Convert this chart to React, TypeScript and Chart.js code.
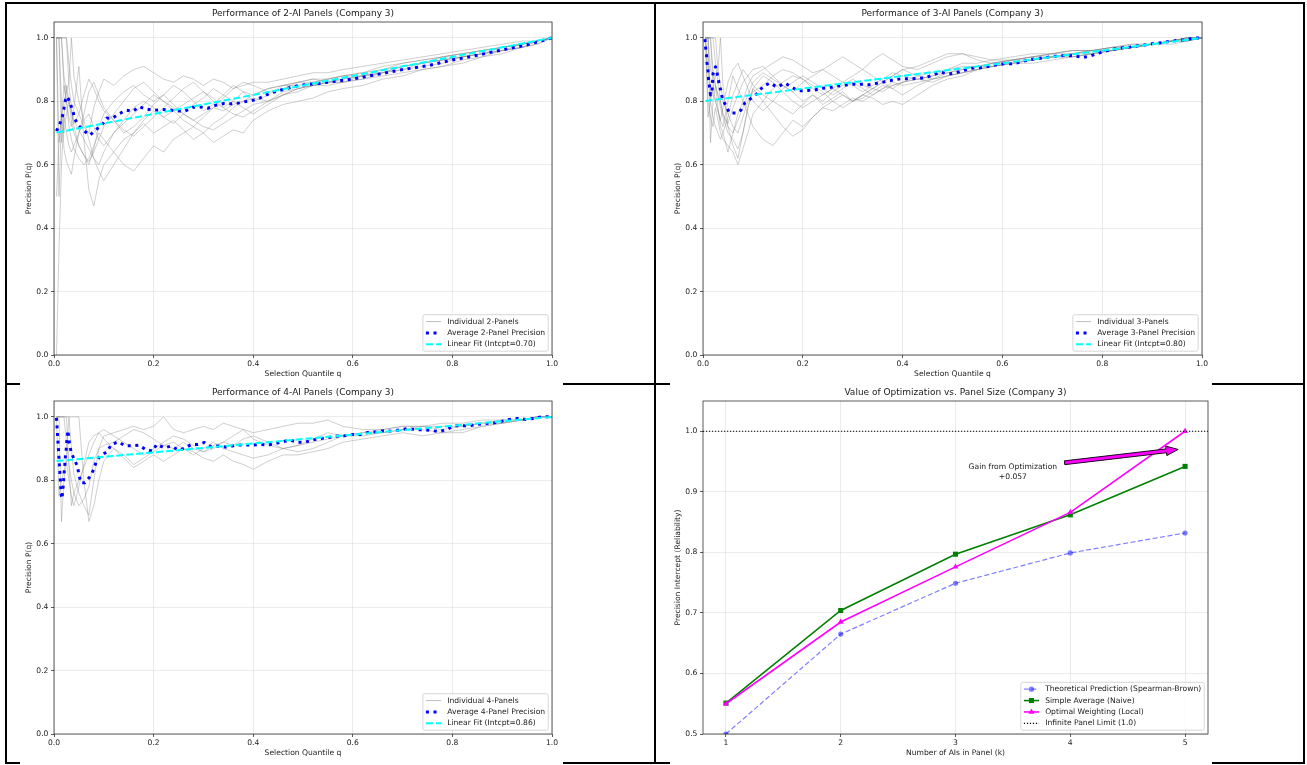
import React, { useEffect, useRef } from "react";
import { Chart, registerables } from "chart.js";

Chart.register(...registerables);

const FONT = '"DejaVu Sans", "Liberation Sans", Arial, sans-serif';
const TEXT = "#1a1a1a";

// ---------------- data ----------------
const Q_GRID = [0.005, 0.01, 0.015, 0.02, 0.025, 0.03, 0.035, 0.04, 0.05, 0.06,
  0.07, 0.08, 0.09, 0.10, 0.12, 0.14, 0.16, 0.18, 0.20, 0.22,
  0.24, 0.26, 0.28, 0.30, 0.32, 0.34, 0.36, 0.38, 0.40, 0.43,
  0.46, 0.49, 0.52, 0.55, 0.58, 0.62, 0.66, 0.70, 0.74, 0.78,
  0.82, 0.86, 0.90, 0.94, 0.97, 1.0];

const PANELS_2 = [
  [0.0, 0.33, 0.60, 0.75, 0.85, 0.80, 0.74, 0.70, 0.66, 0.63, 0.61, 0.64, 0.68, 0.72, 0.76, 0.80, 0.84, 0.86, 0.83, 0.80, 0.78, 0.76, 0.74, 0.72, 0.71, 0.73, 0.75, 0.77, 0.79, 0.80, 0.83, 0.84, 0.85, 0.86, 0.86, 0.88, 0.89, 0.90, 0.92, 0.93, 0.94, 0.95, 0.96, 0.98, 0.99, 1.0],
  [1.0, 1.0, 0.80, 0.65, 0.61, 0.59, 0.57, 0.62, 0.70, 0.76, 0.83, 0.86, 0.82, 0.78, 0.74, 0.70, 0.72, 0.75, 0.79, 0.82, 0.85, 0.83, 0.80, 0.77, 0.79, 0.82, 0.85, 0.83, 0.80, 0.82, 0.85, 0.86, 0.87, 0.86, 0.87, 0.88, 0.90, 0.91, 0.92, 0.94, 0.95, 0.96, 0.97, 0.98, 0.99, 1.0],
  [1.0, 1.0, 1.0, 0.85, 0.80, 0.75, 0.72, 0.78, 0.91, 0.68, 0.52, 0.47, 0.55, 0.60, 0.64, 0.68, 0.70, 0.74, 0.77, 0.75, 0.73, 0.76, 0.79, 0.81, 0.84, 0.82, 0.80, 0.78, 0.76, 0.79, 0.82, 0.84, 0.85, 0.85, 0.86, 0.87, 0.89, 0.90, 0.91, 0.92, 0.94, 0.95, 0.96, 0.97, 0.99, 1.0],
  [1.0, 1.0, 1.0, 1.0, 1.0, 0.92, 0.85, 0.80, 0.76, 0.72, 0.70, 0.78, 0.83, 0.87, 0.85, 0.88, 0.90, 0.91, 0.89, 0.87, 0.86, 0.88, 0.87, 0.85, 0.87, 0.86, 0.84, 0.85, 0.86, 0.86, 0.87, 0.88, 0.89, 0.89, 0.90, 0.91, 0.92, 0.93, 0.94, 0.95, 0.96, 0.97, 0.98, 0.99, 0.99, 1.0],
  [1.0, 0.50, 0.75, 0.85, 0.80, 0.72, 0.68, 0.65, 0.62, 0.60, 0.62, 0.66, 0.70, 0.68, 0.64, 0.60, 0.58, 0.62, 0.66, 0.64, 0.68, 0.70, 0.72, 0.70, 0.67, 0.69, 0.71, 0.70, 0.74, 0.77, 0.79, 0.80, 0.81, 0.83, 0.84, 0.85, 0.87, 0.88, 0.90, 0.91, 0.92, 0.94, 0.95, 0.97, 0.98, 1.0],
  [1.0, 1.0, 1.0, 1.0, 1.0, 0.85, 0.78, 0.72, 0.66, 0.63, 0.60, 0.65, 0.72, 0.76, 0.80, 0.83, 0.85, 0.82, 0.80, 0.82, 0.79, 0.76, 0.74, 0.76, 0.78, 0.81, 0.84, 0.86, 0.85, 0.83, 0.84, 0.86, 0.87, 0.87, 0.88, 0.89, 0.90, 0.92, 0.93, 0.94, 0.95, 0.96, 0.97, 0.98, 0.99, 1.0],
  [0.50, 0.67, 0.75, 0.80, 0.83, 0.86, 1.0, 0.88, 0.80, 0.74, 0.68, 0.62, 0.60, 0.64, 0.70, 0.74, 0.78, 0.80, 0.78, 0.75, 0.77, 0.74, 0.72, 0.75, 0.78, 0.77, 0.79, 0.80, 0.82, 0.84, 0.85, 0.86, 0.86, 0.87, 0.88, 0.89, 0.91, 0.92, 0.93, 0.94, 0.95, 0.96, 0.97, 0.98, 0.99, 1.0],
  [1.0, 1.0, 0.67, 0.75, 0.70, 0.66, 0.64, 0.66, 0.70, 0.74, 0.76, 0.72, 0.68, 0.66, 0.70, 0.73, 0.76, 0.79, 0.82, 0.80, 0.77, 0.79, 0.81, 0.83, 0.81, 0.78, 0.76, 0.75, 0.77, 0.80, 0.82, 0.84, 0.85, 0.86, 0.86, 0.87, 0.88, 0.89, 0.90, 0.91, 0.93, 0.94, 0.96, 0.97, 0.98, 1.0],
  [1.0, 0.67, 0.75, 0.70, 0.76, 0.80, 0.77, 0.74, 0.71, 0.68, 0.65, 0.62, 0.58, 0.55, 0.60, 0.65, 0.70, 0.73, 0.70, 0.72, 0.74, 0.71, 0.68, 0.70, 0.73, 0.75, 0.78, 0.80, 0.81, 0.80, 0.82, 0.83, 0.85, 0.86, 0.87, 0.88, 0.89, 0.91, 0.92, 0.93, 0.94, 0.95, 0.97, 0.98, 0.99, 1.0],
  [1.0, 1.0, 1.0, 0.88, 0.83, 0.80, 0.76, 0.73, 0.76, 0.82, 0.87, 0.84, 0.80, 0.77, 0.74, 0.71, 0.69, 0.72, 0.75, 0.78, 0.81, 0.84, 0.86, 0.83, 0.80, 0.78, 0.80, 0.83, 0.82, 0.84, 0.85, 0.85, 0.86, 0.87, 0.88, 0.88, 0.89, 0.91, 0.92, 0.93, 0.94, 0.95, 0.96, 0.97, 0.99, 1.0],
];

const PANELS_3 = [
  [1.0, 1.0, 0.67, 0.80, 0.85, 0.78, 0.72, 0.70, 0.64, 0.70, 0.76, 0.80, 0.85, 0.88, 0.90, 0.92, 0.94, 0.93, 0.91, 0.89, 0.90, 0.88, 0.86, 0.88, 0.90, 0.88, 0.86, 0.88, 0.90, 0.91, 0.93, 0.95, 0.95, 0.94, 0.93, 0.94, 0.95, 0.95, 0.96, 0.96, 0.97, 0.98, 0.98, 0.99, 0.99, 1.0],
  [1.0, 1.0, 1.0, 1.0, 1.0, 0.90, 1.0, 0.85, 0.72, 0.66, 0.62, 0.70, 0.78, 0.84, 0.88, 0.86, 0.83, 0.80, 0.78, 0.80, 0.82, 0.84, 0.82, 0.80, 0.81, 0.83, 0.85, 0.84, 0.86, 0.87, 0.88, 0.89, 0.90, 0.91, 0.91, 0.92, 0.93, 0.94, 0.94, 0.95, 0.96, 0.97, 0.98, 0.99, 0.99, 1.0],
  [1.0, 0.80, 0.75, 0.72, 0.78, 0.74, 0.70, 0.68, 0.66, 0.64, 0.60, 0.65, 0.70, 0.76, 0.80, 0.84, 0.86, 0.88, 0.87, 0.85, 0.83, 0.80, 0.78, 0.80, 0.82, 0.84, 0.86, 0.84, 0.82, 0.85, 0.87, 0.88, 0.89, 0.90, 0.92, 0.93, 0.94, 0.94, 0.95, 0.96, 0.97, 0.97, 0.98, 0.99, 1.0, 1.0],
  [1.0, 1.0, 1.0, 0.90, 0.85, 0.82, 0.80, 0.76, 0.72, 0.70, 0.74, 0.78, 0.82, 0.86, 0.89, 0.87, 0.85, 0.83, 0.86, 0.88, 0.90, 0.92, 0.94, 0.92, 0.90, 0.93, 0.95, 0.93, 0.91, 0.90, 0.92, 0.94, 0.95, 0.93, 0.92, 0.93, 0.94, 0.95, 0.96, 0.96, 0.97, 0.97, 0.98, 0.99, 1.0, 1.0],
  [1.0, 0.90, 0.85, 0.82, 0.80, 0.77, 0.74, 0.72, 0.80, 0.88, 0.84, 0.80, 0.76, 0.72, 0.68, 0.66, 0.70, 0.74, 0.72, 0.75, 0.78, 0.77, 0.79, 0.81, 0.80, 0.82, 0.84, 0.85, 0.86, 0.87, 0.86, 0.88, 0.89, 0.90, 0.91, 0.92, 0.93, 0.94, 0.94, 0.95, 0.96, 0.97, 0.98, 0.98, 0.99, 1.0],
  [1.0, 1.0, 0.90, 0.88, 0.85, 0.82, 0.78, 0.75, 0.70, 0.68, 0.65, 0.70, 0.78, 0.84, 0.80, 0.76, 0.72, 0.69, 0.71, 0.75, 0.78, 0.80, 0.82, 0.80, 0.82, 0.84, 0.83, 0.85, 0.86, 0.88, 0.89, 0.90, 0.91, 0.91, 0.92, 0.93, 0.94, 0.95, 0.95, 0.96, 0.96, 0.97, 0.98, 0.99, 1.0, 1.0],
  [1.0, 1.0, 1.0, 1.0, 0.92, 0.86, 0.80, 0.76, 0.73, 0.78, 0.82, 0.86, 0.88, 0.90, 0.91, 0.88, 0.85, 0.83, 0.80, 0.82, 0.79, 0.81, 0.83, 0.80, 0.82, 0.81, 0.79, 0.80, 0.79, 0.82, 0.85, 0.87, 0.88, 0.90, 0.91, 0.92, 0.93, 0.94, 0.95, 0.95, 0.96, 0.97, 0.98, 0.99, 1.0, 1.0],
  [1.0, 0.75, 0.80, 0.84, 0.88, 0.90, 0.85, 0.80, 0.76, 0.72, 0.70, 0.75, 0.80, 0.83, 0.85, 0.88, 0.90, 0.89, 0.87, 0.84, 0.82, 0.84, 0.86, 0.85, 0.83, 0.85, 0.87, 0.89, 0.88, 0.87, 0.88, 0.90, 0.92, 0.92, 0.93, 0.93, 0.94, 0.95, 0.96, 0.96, 0.97, 0.98, 0.98, 0.99, 1.0, 1.0],
  [1.0, 1.0, 0.80, 0.75, 0.72, 0.70, 0.68, 0.70, 0.75, 0.82, 0.86, 0.90, 0.88, 0.85, 0.82, 0.80, 0.78, 0.76, 0.79, 0.82, 0.80, 0.83, 0.85, 0.87, 0.85, 0.84, 0.86, 0.88, 0.90, 0.88, 0.87, 0.89, 0.90, 0.91, 0.92, 0.93, 0.93, 0.94, 0.95, 0.96, 0.96, 0.97, 0.98, 0.99, 1.0, 1.0],
  [1.0, 1.0, 1.0, 0.85, 0.80, 0.77, 0.74, 0.78, 0.86, 0.90, 0.92, 0.88, 0.84, 0.80, 0.77, 0.80, 0.84, 0.86, 0.88, 0.86, 0.84, 0.82, 0.84, 0.86, 0.84, 0.82, 0.84, 0.86, 0.85, 0.86, 0.87, 0.88, 0.89, 0.90, 0.91, 0.92, 0.92, 0.93, 0.94, 0.95, 0.96, 0.97, 0.98, 0.99, 0.99, 1.0],
];

const PANELS_4 = [
  [1.0, 1.0, 0.67, 0.80, 0.88, 1.0, 0.90, 0.82, 0.76, 0.72, 0.69, 0.80, 0.90, 0.94, 0.95, 0.96, 0.97, 0.96, 0.97, 1.0, 0.96, 0.95, 0.96, 0.97, 0.96, 0.98, 0.97, 0.96, 0.95, 0.96, 0.97, 0.98, 0.98, 0.99, 0.97, 0.96, 0.96, 0.97, 0.97, 0.98, 0.98, 0.99, 0.99, 0.99, 1.0, 1.0],
  [1.0, 1.0, 1.0, 1.0, 1.0, 0.85, 0.72, 0.76, 0.80, 0.84, 0.88, 0.92, 0.95, 0.96, 0.94, 0.92, 0.90, 0.88, 0.90, 0.92, 0.94, 0.93, 0.91, 0.89, 0.90, 0.92, 0.91, 0.93, 0.94, 0.92, 0.90, 0.91, 0.93, 0.95, 0.94, 0.95, 0.96, 0.97, 0.97, 0.97, 0.97, 0.98, 0.99, 0.99, 1.0, 1.0],
  [1.0, 1.0, 1.0, 1.0, 1.0, 1.0, 1.0, 1.0, 1.0, 0.80, 0.67, 0.72, 0.80, 0.86, 0.90, 0.87, 0.84, 0.86, 0.88, 0.86, 0.88, 0.90, 0.89, 0.87, 0.86, 0.88, 0.86, 0.85, 0.835, 0.86, 0.88, 0.88, 0.89, 0.90, 0.92, 0.93, 0.94, 0.95, 0.94, 0.95, 0.96, 0.97, 0.98, 0.99, 1.0, 1.0],
  [1.0, 0.75, 0.80, 0.83, 0.86, 0.80, 0.75, 0.72, 0.78, 0.85, 0.92, 0.94, 0.95, 0.93, 0.90, 0.88, 0.85, 0.87, 0.89, 0.91, 0.90, 0.92, 0.90, 0.89, 0.91, 0.92, 0.94, 0.96, 0.93, 0.91, 0.90, 0.89, 0.90, 0.92, 0.94, 0.95, 0.95, 0.96, 0.97, 0.96, 0.97, 0.98, 0.98, 0.99, 1.0, 1.0],
  [1.0, 1.0, 1.0, 1.0, 0.92, 0.85, 0.80, 0.76, 0.72, 0.74, 0.78, 0.86, 0.90, 0.91, 0.92, 0.94, 0.96, 0.95, 0.93, 0.91, 0.92, 0.90, 0.88, 0.90, 0.92, 0.90, 0.89, 0.88, 0.87, 0.88, 0.90, 0.91, 0.92, 0.93, 0.94, 0.94, 0.95, 0.96, 0.96, 0.95, 0.95, 0.97, 0.98, 0.99, 1.0, 1.0],
];

const AVG2_Q = [0.005, 0.012, 0.017, 0.020, 0.023, 0.027, 0.033, 0.038, 0.042, 0.05, 0.061, 0.072, 0.083, 0.096, 0.106, 0.117, 0.13, 0.145, 0.159, 0.171, 0.186, 0.202, 0.218, 0.233, 0.248, 0.263, 0.278, 0.294, 0.309, 0.324, 0.341, 0.356, 0.372, 0.388, 0.405, 0.419, 0.433, 0.45, 0.467, 0.481, 0.497, 0.53, 0.56, 0.6, 0.65, 0.7, 0.75, 0.8, 0.85, 0.9, 0.95, 1.0];
const AVG2_P = [0.706, 0.730, 0.753, 0.777, 0.804, 0.815, 0.791, 0.769, 0.744, 0.722, 0.706, 0.693, 0.709, 0.725, 0.747, 0.746, 0.760, 0.772, 0.769, 0.783, 0.775, 0.772, 0.774, 0.773, 0.769, 0.769, 0.781, 0.782, 0.778, 0.787, 0.793, 0.792, 0.795, 0.800, 0.805, 0.814, 0.825, 0.833, 0.840, 0.846, 0.851, 0.856, 0.862, 0.870, 0.885, 0.900, 0.912, 0.930, 0.945, 0.962, 0.978, 1.0];

const AVG3_Q = [0.004, 0.005, 0.007, 0.008, 0.010, 0.011, 0.013, 0.015, 0.018, 0.019, 0.020, 0.025, 0.029, 0.032, 0.036, 0.039, 0.046, 0.053, 0.066, 0.076, 0.084, 0.097, 0.109, 0.12, 0.134, 0.148, 0.165, 0.177, 0.191, 0.207, 0.223, 0.238, 0.253, 0.269, 0.286, 0.301, 0.317, 0.333, 0.349, 0.365, 0.381, 0.397, 0.413, 0.429, 0.444, 0.46, 0.476, 0.492, 0.508, 0.523, 0.539, 0.556, 0.572, 0.588, 0.603, 0.619, 0.635, 0.651, 0.667, 0.682, 0.698, 0.714, 0.729, 0.745, 0.761, 0.777, 0.793, 0.809, 0.825, 0.841, 0.856, 0.872, 0.888, 0.904, 0.92, 0.936, 0.952, 0.967, 0.983, 1.0];
const AVG3_P = [0.996, 0.972, 0.946, 0.921, 0.896, 0.871, 0.846, 0.820, 0.833, 0.860, 0.886, 0.909, 0.883, 0.858, 0.832, 0.807, 0.786, 0.763, 0.763, 0.772, 0.795, 0.810, 0.825, 0.846, 0.858, 0.845, 0.857, 0.845, 0.833, 0.834, 0.835, 0.841, 0.843, 0.848, 0.851, 0.854, 0.854, 0.852, 0.857, 0.862, 0.867, 0.871, 0.871, 0.872, 0.874, 0.882, 0.892, 0.886, 0.890, 0.898, 0.904, 0.906, 0.91, 0.915, 0.918, 0.918, 0.923, 0.930, 0.934, 0.937, 0.941, 0.943, 0.945, 0.943, 0.938, 0.943, 0.952, 0.959, 0.965, 0.969, 0.971, 0.975, 0.978, 0.982, 0.985, 0.989, 0.992, 0.994, 0.999, 1.0];

const AVG4_Q = [0.005, 0.006, 0.007, 0.008, 0.009, 0.010, 0.011, 0.012, 0.013, 0.014, 0.015, 0.016, 0.018, 0.019, 0.020, 0.022, 0.023, 0.025, 0.026, 0.028, 0.029, 0.031, 0.034, 0.040, 0.047, 0.050, 0.054, 0.062, 0.073, 0.080, 0.085, 0.094, 0.107, 0.115, 0.129, 0.143, 0.157, 0.171, 0.184, 0.198, 0.206, 0.222, 0.235, 0.250, 0.262, 0.276, 0.289, 0.302, 0.316, 0.330, 0.349, 0.366, 0.381, 0.397, 0.413, 0.428, 0.443, 0.458, 0.474, 0.489, 0.504, 0.519, 0.534, 0.550, 0.566, 0.582, 0.598, 0.615, 0.631, 0.647, 0.662, 0.678, 0.694, 0.71, 0.726, 0.742, 0.758, 0.774, 0.789, 0.804, 0.82, 0.835, 0.851, 0.867, 0.883, 0.899, 0.915, 0.931, 0.947, 0.963, 0.979, 1.0];
const AVG4_P = [0.997, 0.972, 0.946, 0.920, 0.894, 0.869, 0.844, 0.818, 0.793, 0.767, 0.750, 0.742, 0.774, 0.793, 0.818, 0.853, 0.879, 0.904, 0.932, 0.957, 0.942, 0.917, 0.892, 0.867, 0.845, 0.818, 0.792, 0.792, 0.813, 0.835, 0.860, 0.879, 0.890, 0.913, 0.921, 0.909, 0.909, 0.911, 0.897, 0.892, 0.913, 0.902, 0.908, 0.895, 0.901, 0.913, 0.913, 0.919, 0.905, 0.908, 0.904, 0.911, 0.911, 0.911, 0.913, 0.911, 0.915, 0.921, 0.927, 0.920, 0.920, 0.927, 0.931, 0.935, 0.939, 0.940, 0.944, 0.944, 0.951, 0.953, 0.956, 0.955, 0.959, 0.963, 0.960, 0.959, 0.957, 0.953, 0.961, 0.972, 0.972, 0.972, 0.977, 0.979, 0.981, 0.986, 0.992, 0.995, 0.992, 0.995, 1.0, 1.0];

const FIT_Q = [0.005, 1.0];
const FIT2_P = [0.7015, 1.0];
const FIT3_P = [0.801, 1.0];
const FIT4_P = [0.8607, 1.0];
const INTERCEPT_2 = 0.70;
const INTERCEPT_3 = 0.80;
const INTERCEPT_4 = 0.86;

const Q_TICKS = [0, 0.2, 0.4, 0.6, 0.8, 1.0];
const P_TICKS = [0, 0.2, 0.4, 0.6, 0.8, 1.0];

const K_VALUES = [1, 2, 3, 4, 5];
const THEORETICAL = [0.500, 0.665, 0.749, 0.799, 0.832];
const SIMPLE_AVG = [0.551, 0.704, 0.797, 0.862, 0.942];
const OPTIMAL = [0.550, 0.685, 0.776, 0.866, 1.0];
const LIMIT = 1.0;
const K_RANGE = [0.8, 5.2];
const REL_TICKS = [0.5, 0.6, 0.7, 0.8, 0.9, 1.0];
const GAIN = 0.057;
const ANNOT_TEXT_AT = [3.5, 0.933];
const ARROW_FROM = [3.95, 0.948];
const ARROW_TO = [4.94, 0.970];

// ---------------- drawing helpers ----------------
type Entry = { label: string; color: string; lw: number; dash: number[]; marker?: string; mcolor?: string; mr?: number };

function drawMarker(ctx: CanvasRenderingContext2D, style: string, x: number, y: number, r: number, color: string) {
  ctx.save();
  ctx.fillStyle = color;
  ctx.beginPath();
  if (style === "circle") {
    ctx.arc(x, y, r, 0, Math.PI * 2);
  } else if (style === "rect") {
    const s = r * Math.SQRT1_2;
    ctx.rect(x - s, y - s, 2 * s, 2 * s);
  } else if (style === "triangle") {
    ctx.moveTo(x, y - r);
    ctx.lineTo(x + r * 0.866, y + r * 0.5);
    ctx.lineTo(x - r * 0.866, y + r * 0.5);
    ctx.closePath();
  }
  ctx.fill();
  ctx.restore();
}

function drawLegend(ctx: CanvasRenderingContext2D, a: any, entries: Entry[]) {
  const fs = 7.6;
  ctx.font = `${fs}px ${FONT}`;
  const tw = Math.max(...entries.map((e) => ctx.measureText(e.label).width));
  const bp = 0.4 * fs, hl = 2 * fs, htp = 0.8 * fs, ls = 0.5 * fs, rh = fs;
  const w = bp * 2 + hl + htp + tw;
  const h = bp * 2 + entries.length * rh + (entries.length - 1) * ls;
  const right = a.right - 0.5 * fs;
  const bottom = a.bottom - 0.5 * fs;
  const left = right - w;
  const top = bottom - h;
  ctx.save();
  ctx.beginPath();
  (ctx as any).roundRect(left, top, w, h, 2);
  ctx.fillStyle = "rgba(255,255,255,0.8)";
  ctx.fill();
  ctx.strokeStyle = "#cccccc";
  ctx.lineWidth = 0.8;
  ctx.stroke();
  entries.forEach((e, i) => {
    const cy = top + bp + rh / 2 + i * (rh + ls);
    const x0 = left + bp;
    const x1 = x0 + hl;
    ctx.save();
    ctx.strokeStyle = e.color;
    ctx.lineWidth = e.lw;
    ctx.lineCap = "butt";
    ctx.setLineDash(e.dash);
    ctx.beginPath();
    ctx.moveTo(x0, cy);
    ctx.lineTo(x1, cy);
    ctx.stroke();
    ctx.restore();
    if (e.marker) drawMarker(ctx, e.marker, (x0 + x1) / 2, cy, e.mr || 3, e.mcolor || e.color);
    ctx.fillStyle = TEXT;
    ctx.textAlign = "left";
    ctx.textBaseline = "middle";
    ctx.fillText(e.label, x1 + htp, cy);
  });
  ctx.restore();
}

function drawAnnotation(ctx: CanvasRenderingContext2D, chart: any) {
  const xs = chart.scales.x, ys = chart.scales.y;
  const x1 = xs.getPixelForValue(ARROW_FROM[0]), y1 = ys.getPixelForValue(ARROW_FROM[1]);
  const x2 = xs.getPixelForValue(ARROW_TO[0]), y2 = ys.getPixelForValue(ARROW_TO[1]);
  const dx = x2 - x1, dy = y2 - y1;
  const len = Math.hypot(dx, dy);
  const ux = dx / len, uy = dy / len;
  const nx = -uy, ny = ux;
  const sw = 1.9, hw = 4.8, hl = 12;
  const bx = x2 - ux * hl, by = y2 - uy * hl;
  ctx.save();
  ctx.beginPath();
  ctx.moveTo(x1 + nx * sw, y1 + ny * sw);
  ctx.lineTo(bx + nx * sw, by + ny * sw);
  ctx.lineTo(bx + nx * hw, by + ny * hw);
  ctx.lineTo(x2, y2);
  ctx.lineTo(bx - nx * hw, by - ny * hw);
  ctx.lineTo(bx - nx * sw, by - ny * sw);
  ctx.lineTo(x1 - nx * sw, y1 - ny * sw);
  ctx.closePath();
  ctx.fillStyle = "#ff00ff";
  ctx.fill();
  ctx.strokeStyle = "#000";
  ctx.lineWidth = 0.9;
  ctx.stroke();
  const tx = xs.getPixelForValue(ANNOT_TEXT_AT[0]), ty = ys.getPixelForValue(ANNOT_TEXT_AT[1]);
  ctx.font = `7.6px ${FONT}`;
  ctx.fillStyle = TEXT;
  ctx.textAlign = "center";
  ctx.textBaseline = "middle";
  ctx.fillText("Gain from Optimization", tx, ty - 5);
  ctx.fillText(`+${GAIN.toFixed(3)}`, tx, ty + 5);
  ctx.restore();
}

function decorPlugin(opts: { title: string; xlabel: string; ylabel: string; legend: Entry[]; annotate?: boolean }) {
  return {
    id: "decor",
    afterDraw(chart: any) {
      const ctx: CanvasRenderingContext2D = chart.ctx;
      const a = chart.chartArea;
      ctx.save();
      if (opts.annotate) drawAnnotation(ctx, chart);
      ctx.strokeStyle = "rgba(0,0,0,0.8)";
      ctx.lineWidth = 0.8;
      ctx.strokeRect(a.left, a.top, a.right - a.left, a.bottom - a.top);
      const mx = (a.left + a.right) / 2;
      const my = (a.top + a.bottom) / 2;
      ctx.fillStyle = TEXT;
      ctx.textAlign = "center";
      ctx.textBaseline = "middle";
      ctx.font = `9px ${FONT}`;
      ctx.fillText(opts.title, mx, a.top - 8);
      ctx.font = `7.6px ${FONT}`;
      ctx.fillText(opts.xlabel, mx, a.bottom + 19);
      ctx.save();
      ctx.translate(a.left - 25, my);
      ctx.rotate(-Math.PI / 2);
      ctx.fillText(opts.ylabel, 0, 0);
      ctx.restore();
      drawLegend(ctx, a, opts.legend);
      ctx.restore();
    },
  };
}

type Box = { padL: number; padT: number; padR: number; yW: number; xH: number };

function axis(min: number, max: number, ticks: number[], fmt: (v: number) => string, isX: boolean, box: Box) {
  return {
    type: "linear",
    min,
    max,
    afterBuildTicks: (s: any) => {
      s.ticks = ticks.map((v) => ({ value: v }));
    },
    afterFit: (s: any) => {
      if (isX) s.height = box.xH;
      else s.width = box.yW;
    },
    ticks: {
      callback: (v: any) => fmt(Number(v)),
      font: { family: FONT, size: 7.6 },
      color: TEXT,
      padding: isX ? 1 : 2.6,
      maxRotation: 0,
      autoSkip: false,
    },
    grid: {
      color: "rgba(176,176,176,0.32)",
      lineWidth: 0.8,
      drawTicks: true,
      tickLength: 3,
      tickColor: "#333",
      tickWidth: 0.8,
    },
    border: { display: false },
  };
}

function baseOptions(box: Box, x: any, y: any) {
  return {
    animation: false,
    responsive: false,
    events: [],
    layout: { autoPadding: false, padding: { left: box.padL, top: box.padT, right: box.padR, bottom: 0 } },
    plugins: { legend: { display: false }, tooltip: { enabled: false }, title: { display: false } },
    scales: { x, y },
  };
}

function perfConfig(k: number, lines: number[][], avgQ: number[], avgP: number[], fitP: number[], intercept: number, box: Box) {
  const datasets: any[] = [];
  datasets.push({
    data: FIT_Q.map((q, i) => ({ x: q, y: fitP[i] })),
    borderColor: "#00ffff",
    borderWidth: 2,
    borderDash: [7, 3],
    borderCapStyle: "butt",
    pointRadius: 0,
    tension: 0,
    order: 0,
  });
  datasets.push({
    data: avgQ.map((q, i) => ({ x: q, y: avgP[i] })),
    borderColor: "#0000ff",
    borderWidth: 3,
    borderDash: [3, 4.6],
    borderCapStyle: "butt",
    borderJoinStyle: "round",
    pointRadius: 0,
    tension: 0,
    order: 1,
  });
  lines.forEach((l) => {
    datasets.push({
      data: Q_GRID.map((q, i) => ({ x: q, y: l[i] })),
      borderColor: "rgba(128,128,128,0.42)",
      borderWidth: 0.9,
      borderJoinStyle: "round",
      pointRadius: 0,
      tension: 0,
      order: 2,
    });
  });
  const f1 = (v: number) => v.toFixed(1);
  return {
    type: "line",
    data: { datasets },
    options: baseOptions(box, axis(0, 1, Q_TICKS, f1, true, box), axis(0, 1.05, P_TICKS, f1, false, box)),
    plugins: [
      decorPlugin({
        title: `Performance of ${k}-AI Panels (Company 3)`,
        xlabel: "Selection Quantile q",
        ylabel: "Precision P(q)",
        legend: [
          { label: `Individual ${k}-Panels`, color: "rgba(128,128,128,0.5)", lw: 1, dash: [] },
          { label: `Average ${k}-Panel Precision`, color: "#0000ff", lw: 3, dash: [3, 4.6] },
          { label: `Linear Fit (Intcpt=${intercept.toFixed(2)})`, color: "#00ffff", lw: 2, dash: [7, 3] },
        ],
      }),
    ],
  };
}

function valueConfig(box: Box) {
  const datasets: any[] = [
    {
      data: K_VALUES.map((k, i) => ({ x: k, y: THEORETICAL[i] })),
      borderColor: "rgba(0,0,255,0.5)",
      borderWidth: 1.2,
      borderDash: [5, 2.5],
      pointStyle: "circle",
      pointRadius: 2.6,
      pointBackgroundColor: "rgba(0,0,255,0.5)",
      pointBorderWidth: 0,
      tension: 0,
      order: 3,
    },
    {
      data: K_VALUES.map((k, i) => ({ x: k, y: SIMPLE_AVG[i] })),
      borderColor: "#008000",
      borderWidth: 1.6,
      pointStyle: "rect",
      pointRadius: 3.6,
      pointBackgroundColor: "#008000",
      pointBorderWidth: 0,
      tension: 0,
      order: 2,
    },
    {
      data: K_VALUES.map((k, i) => ({ x: k, y: OPTIMAL[i] })),
      borderColor: "#ff00ff",
      borderWidth: 1.6,
      pointStyle: "triangle",
      pointRadius: 3.4,
      pointBackgroundColor: "#ff00ff",
      pointBorderWidth: 0,
      tension: 0,
      order: 1,
    },
    {
      data: K_RANGE.map((k) => ({ x: k, y: LIMIT })),
      borderColor: "#000",
      borderWidth: 1.1,
      borderDash: [1.2, 1.8],
      pointRadius: 0,
      tension: 0,
      order: 0,
    },
  ];
  return {
    type: "line",
    data: { datasets },
    options: baseOptions(
      box,
      axis(K_RANGE[0], K_RANGE[1], K_VALUES, (v) => String(Math.round(v)), true, box),
      axis(0.5, 1.05, REL_TICKS, (v) => v.toFixed(1), false, box)
    ),
    plugins: [
      decorPlugin({
        title: "Value of Optimization vs. Panel Size (Company 3)",
        xlabel: "Number of AIs in Panel (k)",
        ylabel: "Precision Intercept (Reliability)",
        annotate: true,
        legend: [
          { label: "Theoretical Prediction (Spearman-Brown)", color: "rgba(0,0,255,0.5)", lw: 1.2, dash: [5, 2.5], marker: "circle", mr: 2.6 },
          { label: "Simple Average (Naive)", color: "#008000", lw: 1.6, dash: [], marker: "rect", mr: 3.6 },
          { label: "Optimal Weighting (Local)", color: "#ff00ff", lw: 1.6, dash: [], marker: "triangle", mr: 3.4 },
          { label: `Infinite Panel Limit (${LIMIT.toFixed(1)})`, color: "#000", lw: 1.1, dash: [1.2, 1.8] },
        ],
      }),
    ],
  };
}

function ChartCanvas(props: { left: number; top: number; width: number; height: number; build: () => any }) {
  const ref = useRef<HTMLCanvasElement>(null);
  useEffect(() => {
    const chart = new Chart(ref.current as HTMLCanvasElement, props.build());
    return () => chart.destroy();
  }, []);
  return (
    <canvas
      ref={ref}
      width={props.width}
      height={props.height}
      style={{ position: "absolute", left: props.left, top: props.top, width: props.width, height: props.height }}
    />
  );
}

const RULES: number[][] = [
  [5, 2, 1300, 2],
  [5, 2, 2, 762],
  [654, 2, 2, 762],
  [1303, 2, 2, 762],
  [5, 383, 15, 2],
  [563, 383, 107, 2],
  [1212, 383, 93, 2],
  [5, 762, 15, 2],
  [563, 762, 107, 2],
  [1212, 762, 93, 2],
];

export default function App() {
  const boxTL: Box = { padL: 5, padT: 19, padR: 12, yW: 30, xH: 28 };
  const boxTR: Box = { padL: 3, padT: 19, padR: 11, yW: 30, xH: 28 };
  const boxBL: Box = { padL: 5, padT: 16, padR: 12, yW: 30, xH: 28 };
  const boxBR: Box = { padL: 3, padT: 16, padR: 5, yW: 30, xH: 28 };
  return (
    <div style={{ position: "fixed", left: 0, top: 0, width: 1307, height: 765, background: "#fff", overflow: "hidden" }}>
      {RULES.map((r, i) => (
        <div key={i} style={{ position: "absolute", left: r[0], top: r[1], width: r[2], height: r[3], background: "#000" }} />
      ))}
      <ChartCanvas left={19} top={3} width={545} height={380} build={() => perfConfig(2, PANELS_2, AVG2_Q, AVG2_P, FIT2_P, INTERCEPT_2, boxTL)} />
      <ChartCanvas left={670} top={3} width={543} height={380} build={() => perfConfig(3, PANELS_3, AVG3_Q, AVG3_P, FIT3_P, INTERCEPT_3, boxTR)} />
      <ChartCanvas left={19} top={385} width={545} height={377} build={() => perfConfig(4, PANELS_4, AVG4_Q, AVG4_P, FIT4_P, INTERCEPT_4, boxBL)} />
      <ChartCanvas left={670} top={385} width={543} height={377} build={() => valueConfig(boxBR)} />
    </div>
  );
}
